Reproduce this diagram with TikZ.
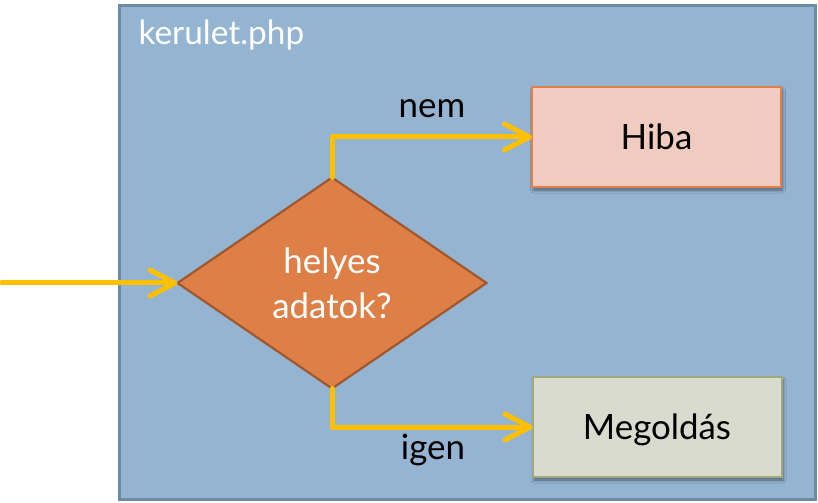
\documentclass[tikz,border=0pt]{standalone}
\usepackage{fontspec}
\setmainfont{Lato}
\usetikzlibrary{shapes.geometric,arrows.meta,shadows.blur}
\definecolor{panelfill}{HTML}{94B4D2}
\definecolor{panelline}{HTML}{6E8BA4}
\definecolor{decfill}{HTML}{DD7F47}
\definecolor{decline}{HTML}{A0582F}
\definecolor{errfill}{HTML}{F0CCC0}
\definecolor{errline}{HTML}{E3804A}
\definecolor{okfill}{HTML}{D9DBCE}
\definecolor{okline}{HTML}{A3A77C}
\definecolor{flow}{HTML}{FFC000}
\tikzset{
  txt/.style={font=\fontsize{35}{45}\selectfont},
  boxnode/.style={txt, draw, line width=2bp, minimum width=249bp, minimum height=100bp,
    inner sep=0pt, outer sep=0pt, text height=25bp, text depth=0pt,
    blur shadow={shadow xshift=1.5bp, shadow yshift=-3bp, shadow blur radius=3bp, shadow opacity=45}},
  decnode/.style={txt, diamond, draw=decline, fill=decfill, line width=2.2bp, text=white,
    minimum width=309bp, minimum height=211bp, inner sep=0pt, outer sep=0pt, align=center},
  flowline/.style={draw=flow, line width=5bp, line cap=round, line join=round,
    -{Straight Barb[length=25bp, width=26bp, line cap=round, line join=round]}},
}
\begin{document}
\begin{tikzpicture}[x=1bp, y=-1bp]
\useasboundingbox (0,0) rectangle (818,503);
\fill[white] (0,0) rectangle (818,503);
\draw[panelline, fill=panelfill, line width=3bp] (119.5,5.5) rectangle (815,499.5);
\node[txt, font=\fontsize{33.5}{40}\selectfont, text=white, anchor=base west] (title) at (135,45) {kerulet.php};
\node[decnode] (dec) at (332,283) {helyes\\adatok?};
\node[boxnode, draw=errline, fill=errfill] (hiba) at (656.5,137) {Hiba};
\node[boxnode, draw=okline, fill=okfill] (ok) at (657,427) {Megoldás};
\coordinate (start) at (1.5,283);
\draw[flowline] (start) -- (dec.west);
\draw[flowline] (dec.north) |- (hiba.west);
\draw[flowline] (dec.south) |- (ok.west);
\node[txt, anchor=base] (nem) at (432,118) {nem};
\node[txt, anchor=base] (igen) at (433,459) {igen};
\end{tikzpicture}
\end{document}
